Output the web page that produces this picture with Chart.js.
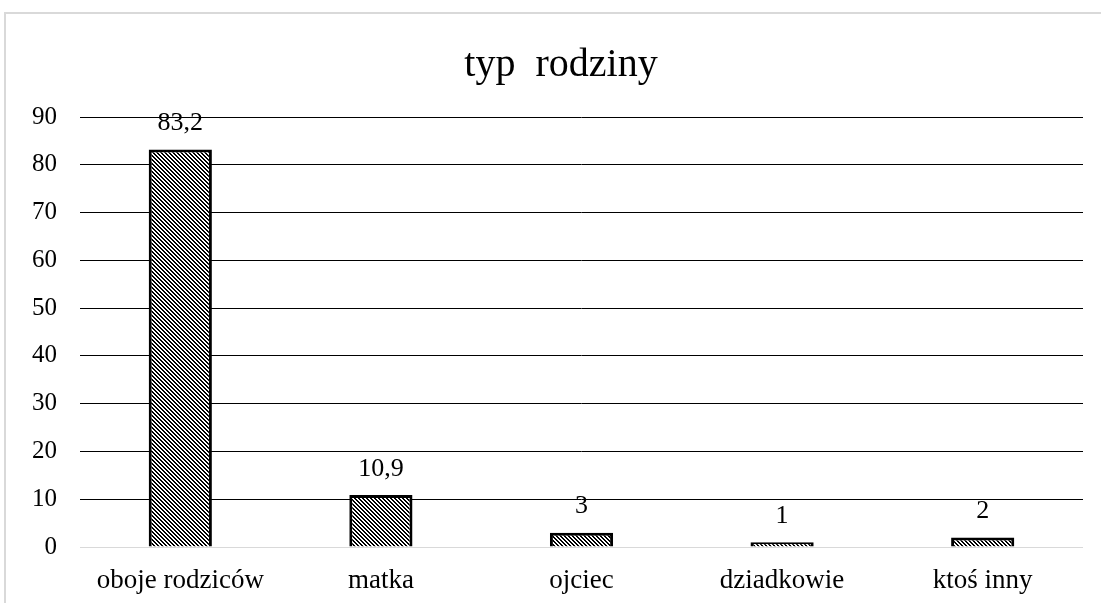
<!DOCTYPE html>
<html>
<head>
<meta charset="utf-8">
<script src="https://cdn.jsdelivr.net/npm/chart.js@4/dist/chart.umd.min.js"></script>
<style>
  html, body { margin: 0; padding: 0; background: #fff; }
  #wrap { position: relative; width: 1101px; height: 603px; overflow: hidden; }
  #frame { position: absolute; left: 4px; top: 12px; width: 1120px; height: 620px; border: 2px solid #d9d9d9; box-sizing: border-box; }
  #familyChart { position: absolute; left: 0; top: 0; }
</style>
</head>
<body>
<div id="wrap">
  <div id="frame"></div>
  <canvas id="familyChart" width="1101" height="603"></canvas>
</div>
<script>
const categories = ['oboje rodziców', 'matka', 'ojciec', 'dziadkowie', 'ktoś inny'];
const percentValues = [83.2, 10.9, 3, 1, 2];
const yTicks = [0, 10, 20, 30, 40, 50, 60, 70, 80, 90];
const chartTitle = 'typ  rodziny';

const fontName = '"Liberation Serif", "Times New Roman", serif';

// wzór ukośnych kresek jak w Excelu
function makeHatch() {
    const c = document.createElement('canvas');
    c.width = 4; c.height = 4;
    const g = c.getContext('2d');
    const img = g.createImageData(4, 4);
    for (let y = 0; y < 4; y++) {
        for (let x = 0; x < 4; x++) {
            const d = ((x - y) % 4 + 4) % 4;
            const v = (d === 0 || d === 1) ? 0 : 255;
            const i = (y * 4 + x) * 4;
            img.data[i] = v; img.data[i + 1] = v; img.data[i + 2] = v; img.data[i + 3] = 255;
        }
    }
    g.putImageData(img, 0, 0);
    return document.getElementById('familyChart').getContext('2d').createPattern(c, 'repeat');
}

const valueLabels = {
    id: 'valueLabels',
    afterDatasetsDraw(chart) {
        const ctx = chart.ctx;
        const meta = chart.getDatasetMeta(0);
        ctx.save();
        ctx.font = '26px ' + fontName;
        ctx.fillStyle = '#000';
        ctx.textAlign = 'center';
        ctx.textBaseline = 'middle';
        meta.data.forEach((bar, i) => {
            const txt = String(percentValues[i]).replace('.', ',');
            ctx.fillText(txt, bar.x, bar.y - 26);
        });
        ctx.restore();
    }
};

// tytuł rysowany ręcznie, bo w oryginale nie jest na środku płótna
const titlePlugin = {
    id: 'titlePlugin',
    afterDraw(chart) {
        const ctx = chart.ctx;
        ctx.save();
        ctx.font = '40px ' + fontName;
        ctx.fillStyle = '#000';
        ctx.textAlign = 'center';
        ctx.textBaseline = 'middle';
        ctx.fillText(chartTitle, 561, 65);
        ctx.restore();
    }
};

const chartCtx = document.getElementById('familyChart').getContext('2d');
const familyChart = new Chart(chartCtx, {
    type: 'bar',
    data: {
        labels: categories,
        datasets: [{
            data: percentValues,
            backgroundColor: makeHatch(),
            borderColor: '#000',
            borderWidth: 3,
            categoryPercentage: 0.35,
            barPercentage: 0.9
        }]
    },
    options: {
        responsive: false,
        animation: false,
        layout: { padding: { left: 0, right: 18, top: 117, bottom: 0 } },
        scales: {
            y: {
                min: 0,
                max: 90,
                afterBuildTicks: scale => { scale.ticks = yTicks.map(v => ({ value: v })); },
                afterFit: scale => { scale.width = 80; },
                border: { display: false },
                grid: {
                    drawTicks: false,
                    color: c => c.tick && c.tick.value === 0 ? '#d9d9d9' : '#000',
                    lineWidth: 1
                },
                ticks: { padding: 23, color: '#000', font: { family: fontName, size: 25 } }
            },
            x: {
                afterFit: scale => { scale.height = 56; },
                border: { display: false },
                grid: { display: false, drawTicks: false },
                ticks: { padding: 18, color: '#000', font: { family: fontName, size: 27 } }
            }
        },
        plugins: {
            legend: { display: false },
            tooltip: { enabled: false },
            title: { display: false }
        }
    },
    plugins: [valueLabels, titlePlugin]
});
</script>
</body>
</html>
